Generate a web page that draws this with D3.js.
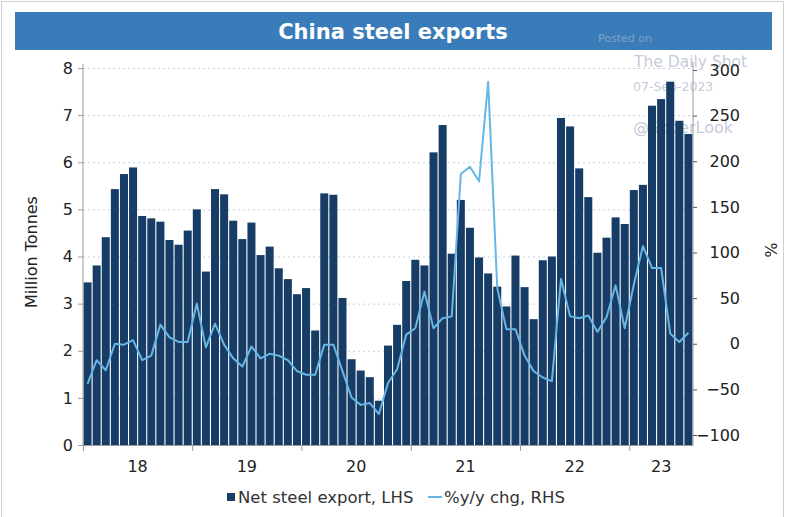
<!DOCTYPE html>
<html>
<head>
<meta charset="utf-8">
<script src="https://cdn.jsdelivr.net/npm/d3@7/dist/d3.min.js"></script>
<style>
  html, body { margin: 0; padding: 0; background: #fff; }
  svg { display: block; }
  text { font-family: "DejaVu Sans", Verdana, sans-serif; }
</style>
</head>
<body>
<svg id="chart" width="786" height="517"></svg>
<script>
// ---- Data ----
const title = "China steel exports";
const yearLabels = ["18", "19", "20", "21", "22", "23"];
// Net steel export, million tonnes (Jan 2018 .. Jul 2023)
const exports2018 = [3.45, 3.81, 4.41, 5.43, 5.75, 5.89, 4.86, 4.81, 4.74, 4.35, 4.25, 4.55];
const exports2019 = [5.00, 3.68, 5.43, 5.32, 4.76, 4.37, 4.72, 4.03, 4.21, 3.75, 3.52, 3.20];
const exports2020 = [3.33, 2.43, 5.34, 5.31, 3.12, 1.82, 1.58, 1.44, 0.94, 2.11, 2.55, 3.48];
const exports2021 = [3.93, 3.81, 6.21, 6.79, 4.06, 5.20, 4.61, 3.98, 3.64, 3.36, 2.94, 4.02];
const exports2022 = [3.35, 2.67, 3.92, 4.00, 6.94, 6.76, 5.87, 5.26, 4.08, 4.40, 4.83, 4.69];
const exports2023 = [5.41, 5.52, 7.20, 7.34, 7.71, 6.88, 6.60];
// %y/y change (RHS)
const yoy2018 = [-44, -18, -29, 0, -1, 4, -18, -13, 21, 7, 2, 2];
const yoy2019 = [44, -4, 22, -1, -16, -25, -3, -16, -11, -13, -18, -30];
const yoy2020 = [-34, -34, -1, -1, -30, -59, -67, -65, -77, -43, -28, 10];
const yoy2021 = [17, 57, 17, 28, 30, 186, 194, 178, 287, 61, 16, 16];
const yoy2022 = [-13, -30, -37, -41, 71, 30, 28, 31, 13, 29, 64, 17];
const yoy2023 = [65, 107, 83, 83, 11, 2, 12];
const leftTicks = [0, 1, 2, 3, 4, 5, 6, 7, 8];
const rightTicks = [-100, -50, 0, 50, 100, 150, 200, 250, 300];
const legendLabels = ["Net steel export, LHS", "%y/y chg, RHS"];

const exportsAll = [].concat(exports2018, exports2019, exports2020, exports2021, exports2022, exports2023);
const yoyAll = [].concat(yoy2018, yoy2019, yoy2020, yoy2021, yoy2022, yoy2023);
const nMonths = exportsAll.length;
const data = exportsAll.map((v, i) => ({ i, v, yoy: yoyAll[i] }));

// ---- Layout ----
const svg = d3.select("#chart");
const pLeft = 83, pRight = 693, pTop = 68, pBottom = 445;
const barColor = "#173d66";
const lineColor = "#66b7e6";
const axisColor = "#9a9a9a";
const tickFont = 16;

// outer frame
svg.append("rect").attr("x", 1.5).attr("y", 1.5).attr("width", 782).attr("height", 530)
  .attr("fill", "none").attr("stroke", "#cfcfcf");

// title banner
svg.append("rect").attr("x", 15).attr("y", 12).attr("width", 757).attr("height", 38)
  .attr("fill", "#3a7cba");
svg.append("text").attr("x", 393).attr("y", 39).attr("text-anchor", "middle")
  .attr("fill", "#fff").attr("font-size", 21).attr("font-weight", "bold").text(title);

// scales
const x = d3.scaleBand().domain(d3.range(nMonths)).range([pLeft, pRight]).paddingInner(0.12).paddingOuter(0.06);
const xm = d3.scaleLinear().domain([0, nMonths]).range([pLeft, pRight]);
const yL = d3.scaleLinear().domain([0, 8]).range([pBottom, pTop]);
const yR = d3.scaleLinear().domain([-100, 300]).range([435, 70]);

// gridlines
svg.append("g").selectAll("line").data(leftTicks.filter(d => d > 0)).join("line")
  .attr("x1", pLeft).attr("x2", pRight)
  .attr("y1", d => yL(d) + 0.5).attr("y2", d => yL(d) + 0.5)
  .attr("stroke", "#c3d0de").attr("stroke-dasharray", "2,3");

// watermark
const wm = svg.append("g").attr("fill", "#bcc5d4").attr("fill-opacity", 0.9);
wm.append("text").attr("x", 598).attr("y", 42).attr("font-size", 11).attr("fill", "#8aa6c6").text("Posted on");
wm.append("text").attr("x", 634).attr("y", 67).attr("font-size", 15.5).text("The Daily Shot");
wm.append("text").attr("x", 633).attr("y", 91).attr("font-size", 12.5).text("07-Sep-2023");
wm.append("text").attr("x", 633).attr("y", 133).attr("font-size", 16).text("@SoberLook");

// bars
svg.append("g").selectAll("rect").data(data).join("rect")
  .attr("x", d => x(d.i)).attr("width", x.bandwidth())
  .attr("y", d => yL(d.v)).attr("height", d => yL(0) - yL(d.v))
  .attr("fill", barColor);

// line
const line = d3.line().x(d => x(d.i) + x.bandwidth() / 2).y(d => yR(d.yoy));
svg.append("path").datum(data).attr("d", line)
  .attr("fill", "none").attr("stroke", lineColor).attr("stroke-width", 2).attr("stroke-linejoin", "round");

// left axis
const gL = svg.append("g").attr("transform", `translate(${pLeft},0)`)
  .call(d3.axisLeft(yL).tickValues(leftTicks).tickSize(5).tickPadding(5).tickSizeOuter(0));
gL.select(".domain").attr("stroke", axisColor).attr("d", `M0,${pTop - 4}V${pBottom}`);
gL.selectAll(".tick line").attr("stroke", axisColor);
gL.selectAll(".tick text").attr("font-size", tickFont).attr("fill", "#222");

// right axis
const gR = svg.append("g").attr("transform", `translate(${pRight},0)`)
  .call(d3.axisRight(yR).tickValues(rightTicks).tickSize(4).tickPadding(0).tickSizeOuter(0));
gR.select(".domain").attr("stroke", axisColor).attr("d", `M0,${pTop - 6}V${pBottom}`);
gR.selectAll(".tick line").attr("stroke", "#555");
gR.selectAll(".tick text").attr("font-size", tickFont).attr("fill", "#222")
  .attr("text-anchor", "end").attr("x", 47);

// bottom axis
const yearStarts = yearLabels.map((d, k) => k * 12);
const gB = svg.append("g").attr("transform", `translate(0,${pBottom})`)
  .call(d3.axisBottom(xm).tickValues(yearStarts).tickSize(6).tickFormat("").tickSizeOuter(0));
gB.select(".domain").attr("stroke", axisColor);
gB.selectAll(".tick line").attr("stroke", axisColor);
gB.append("g").selectAll("text").data(yearLabels).join("text")
  .attr("x", (d, k) => (xm(k * 12) + xm(Math.min((k + 1) * 12, nMonths))) / 2)
  .attr("y", 27).attr("text-anchor", "middle").attr("font-size", tickFont).attr("fill", "#222")
  .text(d => d);

// axis titles
svg.append("text").attr("transform", "translate(37,252) rotate(-90)").attr("text-anchor", "middle")
  .attr("font-size", 16).attr("fill", "#222").text("Million Tonnes");
svg.append("text").attr("transform", "translate(765,250) rotate(90)").attr("text-anchor", "middle")
  .attr("font-size", 16).attr("fill", "#222").text("%");

// legend
const lg = svg.append("g").attr("transform", "translate(0,497)");
lg.append("rect").attr("x", 227).attr("y", -4).attr("width", 8).attr("height", 8).attr("fill", barColor);
lg.append("text").attr("x", 238).attr("y", 6).attr("font-size", 16.5).attr("fill", "#333").text(legendLabels[0]);
lg.append("line").attr("x1", 428).attr("x2", 442).attr("y1", 0).attr("y2", 0)
  .attr("stroke", lineColor).attr("stroke-width", 2);
lg.append("text").attr("x", 444).attr("y", 6).attr("font-size", 16.5).attr("fill", "#333").text(legendLabels[1]);
</script>
</body>
</html>
